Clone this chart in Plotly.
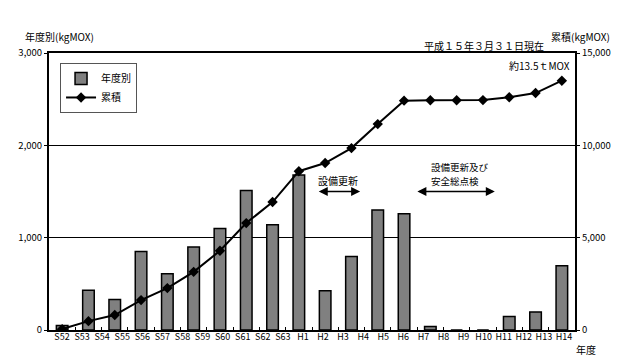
import plotly.graph_objects as go

# 26 fiscal-year labels printed under the axis
year_labels = ["S52", "S53", "S54", "S55", "S56", "S57", "S58", "S59", "S60", "S61",
               "S62", "S63", "H1", "H2", "H3", "H4", "H5", "H6", "H7", "H8",
               "H9", "H10", "H11", "H12", "H13", "H14"]

# 20 data points as drawn in the chart
annual = [50, 430, 330, 850, 610, 900, 1100, 1510, 1140, 1680,
          425, 795, 1300, 1258, 37, 0, 0, 146, 196, 696]
cumulative = [50, 480, 810, 1620, 2270, 3150, 4290, 5790, 6930, 8600,
              9040, 9850, 11150, 12420, 12440, 12440, 12450, 12600, 12830, 13500]
points = list(range(len(annual)))

FONT = "Noto Sans CJK JP"

fig = go.Figure()
fig.add_trace(go.Bar(
    x=points, y=annual, name="年度別", width=0.44,
    marker=dict(color="#808080", line=dict(color="black", width=1.5)),
    yaxis="y",
))
fig.add_trace(go.Scatter(
    x=points, y=cumulative, name="累積", mode="lines+markers",
    line=dict(color="black", width=2),
    marker=dict(symbol="diamond", size=8, color="black"),
    yaxis="y2",
))

fig.update_layout(
    width=620, height=358,
    margin=dict(l=41, r=53, t=45, b=36, autoexpand=False),
    paper_bgcolor="white", plot_bgcolor="white",
    font=dict(family=FONT, size=10, color="black"),
    showlegend=True,
    legend=dict(x=0.021, y=0.964, xanchor="left", yanchor="top",
                bordercolor="#555555", borderwidth=1, bgcolor="white",
                font=dict(size=10), itemwidth=30, tracegroupgap=0),
    xaxis=dict(range=[-0.5, len(points) - 0.5], automargin=False,
               tickvals=[i + 0.5 for i in points[:-1]],
               ticks="inside", ticklen=3, tickwidth=1, tickcolor="black",
               showticklabels=False, showgrid=False, zeroline=False,
               showline=True, linewidth=2, linecolor="black", mirror=True),
    xaxis2=dict(overlaying="x", anchor="y", side="bottom", automargin=False,
                range=[-0.647, 25.55],
                tickmode="array", tickvals=list(range(len(year_labels))),
                ticktext=year_labels, ticks="", showline=False,
                showgrid=False, zeroline=False,
                tickfont=dict(size=9)),
    yaxis=dict(range=[0, 3000], tickvals=[0, 1000, 2000, 3000], tickformat=",",
               automargin=False, tickfont=dict(size=9.5),
               showgrid=True, gridcolor="black", gridwidth=1.2, zeroline=False,
               showline=True, linewidth=2, linecolor="black",
               ticks="outside", ticklen=3, tickcolor="black"),
    yaxis2=dict(range=[0, 15000], tickvals=[0, 5000, 10000, 15000], tickformat=",",
                automargin=False, tickfont=dict(size=9.5),
                overlaying="y", side="right", showgrid=False, zeroline=False,
                showline=True, linewidth=2, linecolor="black",
                ticks="outside", ticklen=3, tickcolor="black"),
    bargap=0.56,
)

# invisible anchor so the label axis is drawn
fig.add_trace(go.Scatter(x=[], y=[], xaxis="x2", yaxis="y", showlegend=False,
                         hoverinfo="skip"))

annotations = [
    dict(text="年度別(kgMOX)", xref="paper", yref="paper", x=-0.049, y=1.058,
         xanchor="left", yanchor="middle", showarrow=False),
    dict(text="累積(kgMOX)", xref="paper", yref="paper", x=0.95, y=1.058,
         xanchor="left", yanchor="middle", showarrow=False),
    dict(text="平成１５年３月３１日現在", xref="paper", yref="paper", x=0.709, y=1.028,
         xanchor="left", yanchor="middle", showarrow=False),
    dict(text="約13.5ｔMOX", xref="x", yref="y2", x=19.4, y=14300,
         xanchor="right", yanchor="middle", showarrow=False),
    dict(text="年度", xref="paper", yref="paper", x=0.999, y=-0.072,
         xanchor="left", yanchor="middle", showarrow=False),
    dict(text="設備更新", xref="x", yref="y", x=10.5, y=1620,
         xanchor="center", yanchor="middle", showarrow=False),
    dict(text="設備更新及び", xref="x", yref="y", x=13.95, y=1760,
         xanchor="left", yanchor="middle", showarrow=False, font=dict(size=9.5)),
    dict(text="安全総点検", xref="x", yref="y", x=13.95, y=1615,
         xanchor="left", yanchor="middle", showarrow=False, font=dict(size=9.5)),
]
for (x0, x1) in [(9.7, 11.33), (13.45, 16.45)]:
    annotations.append(dict(x=x1, y=1500, ax=x0, ay=1500, xref="x", yref="y",
                            axref="x", ayref="y", text="", showarrow=True,
                            arrowhead=2, arrowside="end+start", arrowsize=1.2,
                            arrowwidth=1.5, arrowcolor="black"))
fig.update_layout(annotations=annotations)

fig.write_html("out.html")
